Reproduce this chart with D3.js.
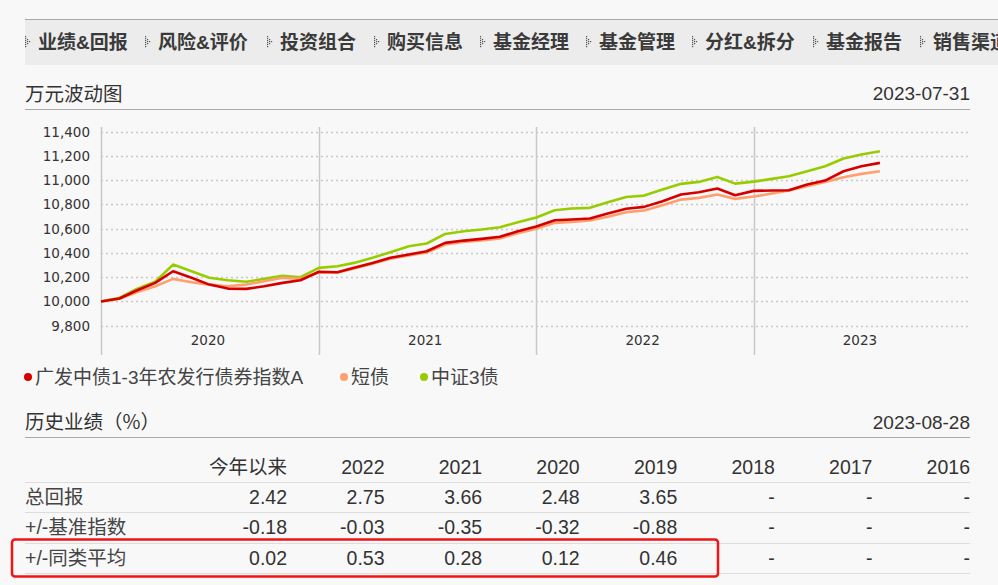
<!DOCTYPE html>
<html><head><meta charset="utf-8">
<script src="https://cdn.jsdelivr.net/npm/d3@7"></script>
<style>
html,body{margin:0;padding:0;background:#f8f8f8;}
svg{display:block;}
</style></head>
<body>
<svg id="c" width="998" height="585"></svg>
<script>
// ---------- data ----------
const navItems = ["业绩&回报","风险&评价","投资组合","购买信息","基金经理","基金管理","分红&拆分","基金报告","销售渠道"];
const navX = [38,158,280,387,493,599,705,826,933];

const months = ["2019-12","2020-01","2020-02","2020-03","2020-04","2020-05","2020-06","2020-07","2020-08","2020-09","2020-10","2020-11",
"2020-12","2021-01","2021-02","2021-03","2021-04","2021-05","2021-06","2021-07","2021-08","2021-09","2021-10","2021-11",
"2021-12","2022-01","2022-02","2022-03","2022-04","2022-05","2022-06","2022-07","2022-08","2022-09","2022-10","2022-11",
"2022-12","2023-01","2023-02","2023-03","2023-04","2023-05","2023-06","2023-07"];

const seriesNames = ["广发中债1-3年农发行债券指数A","短债","中证3债"];
const fundValues = [10000,10024,10090,10153,10249,10195,10139,10106,10104,10125,10153,10175,10245,10241,10277,10318,10360,10387,10414,10483,10502,10516,10533,10579,10618,10670,10676,10684,10725,10764,10780,10827,10882,10901,10931,10876,10912,10915,10917,10964,10997,11074,11115,11143];
const shortBondValues = [10000,10022,10076,10125,10186,10159,10139,10125,10139,10167,10195,10186,10240,10238,10272,10312,10352,10380,10404,10470,10490,10504,10520,10563,10600,10648,10656,10667,10698,10736,10750,10793,10840,10854,10882,10846,10865,10890,10915,10950,10986,11024,11052,11074];
const csi3Values = [10000,10030,10104,10162,10304,10249,10195,10175,10162,10186,10211,10200,10277,10290,10318,10360,10406,10455,10478,10557,10579,10593,10612,10653,10692,10752,10766,10772,10818,10862,10873,10923,10970,10986,11027,10972,10988,11011,11033,11074,11115,11179,11212,11239];
const seriesColors = ["#d40000","#ff9f6e","#99cc00"];

const yTicks = [9800,10000,10200,10400,10600,10800,11000,11200,11400];
const yearLabels = ["2020","2021","2022","2023"];

const tableHeaders = ["今年以来","2022","2021","2020","2019","2018","2017","2016"];
const rowLabels = ["总回报","+/-基准指数","+/-同类平均"];
const totalReturn = ["2.42","2.75","3.66","2.48","3.65","-","-","-"];
const vsBenchmark = ["-0.18","-0.03","-0.35","-0.32","-0.88","-","-","-"];
const vsCategory = ["0.02","0.53","0.28","0.12","0.46","-","-","-"];

// ---------- drawing ----------
const svg = d3.select("#c");
const CJK = "'Noto Sans CJK SC', sans-serif";
const MIX = "'Liberation Sans', 'Noto Sans CJK SC', sans-serif";
const AX = "'DejaVu Sans', sans-serif";

// nav bar
svg.append("rect").attr("x",25).attr("y",20).attr("width",973).attr("height",45).attr("fill","#ececec");
svg.append("line").attr("x1",25).attr("x2",998).attr("y1",19.5).attr("y2",19.5).attr("stroke","#aaa");
const nav = svg.append("g");
navItems.forEach((t,i)=>{
  const ix = navX[i]-13;
  const g = nav.append("g");
  [[0,36],[0,38],[0,40],[0,42],[0,44],[0,46],[2,39],[2,41],[2,43],[4,41]].forEach(p=>{
    g.append("rect").attr("x",ix+p[0]).attr("y",p[1]).attr("width",1.2).attr("height",1.2).attr("fill","#555");
  });
  nav.append("text").attr("x",navX[i]).attr("y",42).attr("dy","0.35em")
    .attr("font-family",MIX).attr("font-size",19).attr("font-weight",700).attr("fill","#3a3a3a").text(t);
});

// section title 1
svg.append("text").attr("x",25).attr("y",94).attr("dy","0.35em").attr("font-family",CJK).attr("font-size",19.5).attr("fill","#333").text("万元波动图");
svg.append("text").attr("x",970).attr("y",93).attr("dy","0.35em").attr("text-anchor","end").attr("font-family",MIX).attr("font-size",19).attr("fill","#333").text("2023-07-31");
svg.append("line").attr("x1",25).attr("x2",970).attr("y1",109.5).attr("y2",109.5).attr("stroke","#aaa");

// chart
const parse = d3.timeParse("%Y-%m");
const dates = months.map(m=>d3.timeMonth.offset(parse(m),1));
const x = d3.scaleTime().domain([new Date(2020,0,1), new Date(2024,0,1)]).range([101,971]);
const y = d3.scaleLinear().domain([9800,11400]).range([325.7,131.7]);

const grid = svg.append("g");
yTicks.forEach(v=>{
  grid.append("line").attr("x1",101).attr("x2",968).attr("y1",Math.round(y(v))+0.5).attr("y2",Math.round(y(v))+0.5)
    .attr("stroke","#c8c8c8").attr("stroke-width",1.3).attr("stroke-dasharray","2,3");
});
// y axis labels via d3 axis
const yAxis = d3.axisLeft(y).tickValues(yTicks).tickSize(0).tickPadding(0).tickFormat(d3.format(","));
const ya = svg.append("g").attr("transform","translate(90,0)").call(yAxis);
ya.select(".domain").remove();
ya.selectAll("text").attr("font-family",AX).attr("font-size",13.5).attr("fill","#333");

// vertical year lines
const yearStarts = [2020,2021,2022,2023].map(yr=>new Date(yr,0,1));
yearStarts.forEach(d=>{
  svg.append("line").attr("x1",Math.round(x(d))+0.5).attr("x2",Math.round(x(d))+0.5).attr("y1",127).attr("y2",355)
    .attr("stroke","#c8c8c8").attr("stroke-width",1.5);
});
// year labels
const xAxis = d3.axisBottom(x).tickValues(yearLabels.map(s=>new Date(+s,6,1))).tickSize(0).tickPadding(0).tickFormat(d3.timeFormat("%Y"));
const xa = svg.append("g").attr("transform","translate(-2,335)").call(xAxis);
xa.select(".domain").remove();
xa.selectAll("text").attr("font-family",AX).attr("font-size",13.5).attr("fill","#333");

// lines
const allSeries = [fundValues, shortBondValues, csi3Values];
const line = d3.line().x((d,i)=>x(dates[i])).y(d=>y(d));
[2,1,0].forEach(k=>{
  svg.append("path").datum(allSeries[k]).attr("d",line).attr("fill","none")
    .attr("stroke",seriesColors[k]).attr("stroke-width",2.6).attr("stroke-linejoin","round");
});

// legend
const legX = [28,344,424];
seriesNames.forEach((n,i)=>{
  svg.append("circle").attr("cx",legX[i]).attr("cy",377).attr("r",4).attr("fill",seriesColors[i]);
  svg.append("text").attr("x",legX[i]+7).attr("y",377).attr("dy","0.35em").attr("font-family",MIX).attr("font-size",19).attr("fill","#444").text(n);
});

// section title 2
svg.append("text").attr("x",25).attr("y",422).attr("dy","0.35em").attr("font-family",CJK).attr("font-size",19.5).attr("fill","#333").text("历史业绩（%）");
svg.append("text").attr("x",970).attr("y",422).attr("dy","0.35em").attr("text-anchor","end").attr("font-family",MIX).attr("font-size",19).attr("fill","#333").text("2023-08-28");
svg.append("line").attr("x1",25).attr("x2",970).attr("y1",437.5).attr("y2",437.5).attr("stroke","#aaa");

// table
const colX = d3.scalePoint().domain(tableHeaders).range([287,970]);
const rowY = [497,527,558];
const lineY = [482.5,512.5,543.5,573.5];
lineY.forEach(ly=>svg.append("line").attr("x1",25).attr("x2",970).attr("y1",ly).attr("y2",ly).attr("stroke","#ddd"));
tableHeaders.forEach(h=>{
  svg.append("text").attr("x",colX(h)).attr("y",467).attr("dy","0.35em").attr("text-anchor","end")
    .attr("font-family",MIX).attr("font-size",19.5).attr("fill","#333").text(h);
});
const rows = [totalReturn, vsBenchmark, vsCategory];
rows.forEach((r,ri)=>{
  svg.append("text").attr("x",25).attr("y",rowY[ri]).attr("dy","0.35em").attr("font-family",MIX).attr("font-size",19.5).attr("fill","#444").text(rowLabels[ri]);
  r.forEach((v,ci)=>{
    svg.append("text").attr("x",colX(tableHeaders[ci])).attr("y",rowY[ri]).attr("dy","0.35em").attr("text-anchor","end")
      .attr("font-family",MIX).attr("font-size",19.5).attr("fill","#333").text(v);
  });
});
// highlight box
svg.append("rect").attr("x",12).attr("y",539.5).attr("width",706).attr("height",37).attr("rx",3)
  .attr("fill","none").attr("stroke","#f01414").attr("stroke-width",2.5);
</script>
</body></html>
